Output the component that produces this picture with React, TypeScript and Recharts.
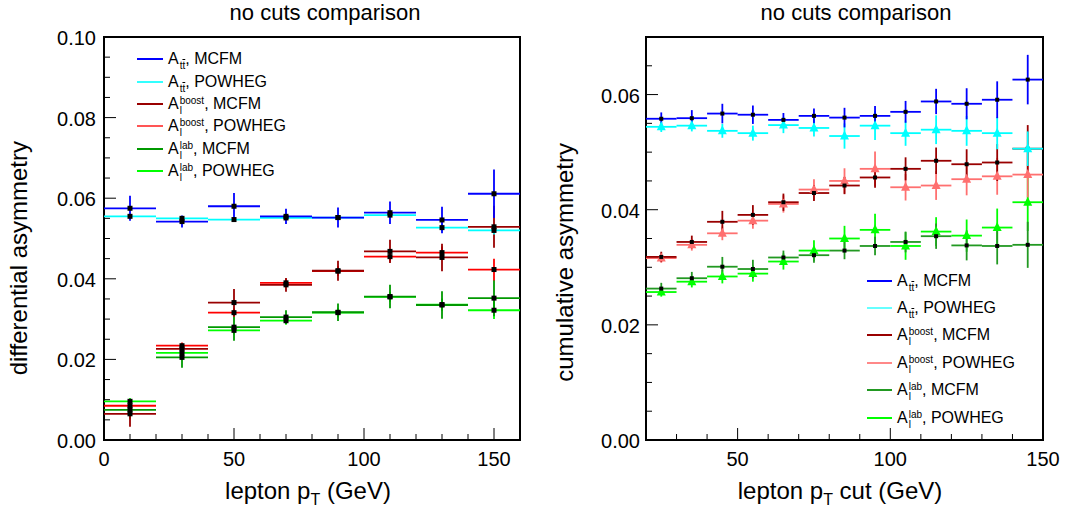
import React from 'react';
import { ScatterChart, Scatter, XAxis, YAxis, ErrorBar, ReferenceArea, Legend } from 'recharts';

const FONT = '"Liberation Sans", Arial, Helvetica, sans-serif';

// ---------- Left panel: differential asymmetry ----------
const leftBins = [10, 30, 50, 70, 90, 110, 130, 150];
const leftHalfWidth = 10;
const attMcfmL = [0.0575, 0.0542, 0.058, 0.0555, 0.0552, 0.0564, 0.0546, 0.0611];
const attMcfmLErr = [0.0031, 0.0015, 0.0033, 0.0019, 0.0025, 0.0028, 0.0033, 0.006];
const attPowL = [0.0555, 0.055, 0.0547, 0.0551, 0.0552, 0.0558, 0.0527, 0.052];
const attPowLErr = [0.0006, 0.0006, 0.0006, 0.0006, 0.0007, 0.0008, 0.0009, 0.001];
const boostMcfmL = [0.0065, 0.0226, 0.0341, 0.0385, 0.042, 0.0468, 0.0453, 0.0529];
const boostMcfmLErr = [0.0032, 0.0012, 0.0034, 0.0017, 0.0025, 0.0029, 0.0034, 0.0052];
const boostPowL = [0.0085, 0.0234, 0.0316, 0.039, 0.0419, 0.0455, 0.0465, 0.0423];
const boostPowLErr = [0.001, 0.0008, 0.001, 0.001, 0.0012, 0.0012, 0.0015, 0.0027];
const labMcfmL = [0.0075, 0.0205, 0.028, 0.0305, 0.0317, 0.0356, 0.0335, 0.0352];
const labMcfmLErr = [0.0022, 0.0026, 0.0034, 0.0017, 0.0022, 0.0029, 0.0034, 0.0045];
const labPowL = [0.0096, 0.0216, 0.0272, 0.0296, 0.0316, 0.0355, 0.0336, 0.0322];
const labPowLErr = [0.0008, 0.0008, 0.001, 0.001, 0.0012, 0.0012, 0.0015, 0.0022];

const leftXTicks = [0, 10, 20, 30, 40, 50, 60, 70, 80, 90, 100, 110, 120, 130, 140, 150, 160];
const leftXMajor = [0, 50, 100, 150];
const leftYTicks = [0, 0.005, 0.01, 0.015, 0.02, 0.025, 0.03, 0.035, 0.04, 0.045, 0.05, 0.055, 0.06, 0.065, 0.07, 0.075, 0.08, 0.085, 0.09, 0.095, 0.1];
const leftYMajor = [0, 0.02, 0.04, 0.06, 0.08, 0.1];

// ---------- Right panel: cumulative asymmetry ----------
const rightBins = [25, 35, 45, 55, 65, 75, 85, 95, 105, 115, 125, 135, 145];
const rightHalfWidth = 5;
const attMcfmR = [0.0558, 0.0559, 0.0567, 0.0565, 0.0556, 0.0563, 0.056, 0.0563, 0.057, 0.0588, 0.0584, 0.0591, 0.0626];
const attMcfmRErr = [0.0011, 0.0014, 0.0017, 0.0016, 0.0012, 0.0013, 0.0017, 0.0017, 0.0019, 0.0022, 0.0027, 0.0032, 0.0043];
const attPowR = [0.0544, 0.0546, 0.0537, 0.0533, 0.0547, 0.0542, 0.0528, 0.0546, 0.0533, 0.0539, 0.0537, 0.0533, 0.0506];
const attPowRErr = [0.0009, 0.001, 0.0012, 0.0013, 0.0014, 0.0015, 0.0022, 0.0025, 0.0022, 0.0025, 0.0026, 0.0028, 0.003];
const boostMcfmR = [0.0318, 0.0344, 0.0379, 0.0391, 0.0413, 0.0429, 0.0442, 0.0456, 0.0471, 0.0485, 0.0479, 0.0482, 0.0506];
const boostMcfmRErr = [0.0009, 0.0011, 0.0019, 0.0017, 0.0015, 0.0014, 0.0015, 0.0018, 0.002, 0.0023, 0.0026, 0.0032, 0.0041];
const boostPowR = [0.0316, 0.0339, 0.0359, 0.0381, 0.041, 0.0435, 0.045, 0.0471, 0.0439, 0.0442, 0.0453, 0.0458, 0.0461];
const boostPowRErr = [0.0008, 0.001, 0.0012, 0.0014, 0.0015, 0.0018, 0.0022, 0.003, 0.0023, 0.0025, 0.0028, 0.0032, 0.004];
const labMcfmR = [0.0263, 0.0281, 0.0301, 0.0297, 0.0317, 0.0321, 0.0329, 0.0337, 0.0344, 0.0354, 0.0338, 0.0337, 0.0339];
const labMcfmRErr = [0.001, 0.0011, 0.0017, 0.0016, 0.0012, 0.0013, 0.0015, 0.0016, 0.0018, 0.0022, 0.0026, 0.0032, 0.004];
const labPowR = [0.0257, 0.0275, 0.0284, 0.0289, 0.031, 0.0329, 0.035, 0.0365, 0.0337, 0.0362, 0.0355, 0.0369, 0.0413];
const labPowRErr = [0.0008, 0.001, 0.0012, 0.0014, 0.0014, 0.0018, 0.0022, 0.0028, 0.0024, 0.0025, 0.0028, 0.0033, 0.005];

const rightXTicks = [20, 30, 40, 50, 60, 70, 80, 90, 100, 110, 120, 130, 140, 150];
const rightXMajor = [50, 100, 150];
const rightYTicks = [0, 0.005, 0.01, 0.015, 0.02, 0.025, 0.03, 0.035, 0.04, 0.045, 0.05, 0.055, 0.06, 0.065, 0.07];
const rightYMajor = [0, 0.02, 0.04, 0.06];

// ---------- legend entries ----------
type Entry = { sup: string; sub: string; over: boolean; gen: string; color: string };
const legendLeft: Entry[] = [
  { sup: '', sub: 'tt', over: true, gen: 'MCFM', color: '#0000ff' },
  { sup: '', sub: 'tt', over: true, gen: 'POWHEG', color: '#33ffff' },
  { sup: 'boost', sub: 'l', over: false, gen: 'MCFM', color: '#990000' },
  { sup: 'boost', sub: 'l', over: false, gen: 'POWHEG', color: '#ff5555' },
  { sup: 'lab', sub: 'l', over: false, gen: 'MCFM', color: '#009900' },
  { sup: 'lab', sub: 'l', over: false, gen: 'POWHEG', color: '#00ff00' },
];
const legendRight: Entry[] = [
  { sup: '', sub: 'tt', over: true, gen: 'MCFM', color: '#0000ff' },
  { sup: '', sub: 'tt', over: true, gen: 'POWHEG', color: '#66ffff' },
  { sup: 'boost', sub: 'l', over: false, gen: 'MCFM', color: '#990000' },
  { sup: 'boost', sub: 'l', over: false, gen: 'POWHEG', color: '#ff8888' },
  { sup: 'lab', sub: 'l', over: false, gen: 'MCFM', color: '#229922' },
  { sup: 'lab', sub: 'l', over: false, gen: 'POWHEG', color: '#00ff00' },
];

const build = (xs: number[], ys: number[], errs: number[], half: number) =>
  xs.map((x, i) => ({ x, y: ys[i], ex: half, ey: errs[i] }));

const square = (size: number) => (p: any) => (
  <rect x={p.cx - size / 2} y={p.cy - size / 2} width={size} height={size} fill="#000" />
);
const triangle = (color: string) => (p: any) => (
  <polygon points={`${p.cx},${p.cy - 5.5} ${p.cx - 4.5},${p.cy + 3.5} ${p.cx + 4.5},${p.cy + 3.5}`} fill={color} />
);

const makeXTick = (majors: number[]) => (props: any) => {
  const { x, y, payload } = props;
  const major = majors.includes(payload.value);
  return (
    <g>
      <line x1={x} x2={x} y1={y} y2={y - (major ? 12 : 6)} stroke="#000" strokeWidth={1} />
      {major && (
        <text x={x} y={y + 26} textAnchor="middle" fontSize={20} fontFamily={FONT} fill="#000">
          {payload.value}
        </text>
      )}
    </g>
  );
};
const makeYTick = (majors: number[], gap: number) => (props: any) => {
  const { x, y, payload } = props;
  const major = majors.includes(payload.value);
  return (
    <g>
      <line x1={x} x2={x + (major ? 12 : 6)} y1={y} y2={y} stroke="#000" strokeWidth={1} />
      {major && (
        <text x={x - gap} y={y + 8} textAnchor="end" fontSize={20} fontFamily={FONT} fill="#000">
          {payload.value.toFixed(2)}
        </text>
      )}
    </g>
  );
};

const EntryLabel = ({ e }: { e: Entry }) => (
  <span style={{ display: 'inline-flex', alignItems: 'center', whiteSpace: 'nowrap' }}>
    <span>A</span>
    <span style={{ display: 'inline-flex', flexDirection: 'column', fontSize: 10, lineHeight: '10px', marginLeft: 1, transform: 'translateY(2px)' }}>
      <span style={{ height: 10 }}>{e.sup}</span>
      <span style={{ height: 10 }}>
        {e.over ? (
          <>
            t<span style={{ textDecoration: 'overline' }}>t</span>
          </>
        ) : (
          e.sub
        )}
      </span>
    </span>
    <span>, {e.gen}</span>
  </span>
);

const LegendBox = ({ items, rowH, lineW }: { items: Entry[]; rowH: number; lineW: number }) => (
  <div style={{ position: 'relative', fontFamily: FONT, fontSize: 16, color: '#000', width: 200, height: rowH * items.length }}>
    {items.map((e, i) => (
      <div key={i} style={{ position: 'absolute', left: 0, top: i * rowH, height: rowH, display: 'flex', alignItems: 'center' }}>
        <span style={{ display: 'inline-block', width: lineW, borderTop: `2px solid ${e.color}`, marginRight: 5 }} />
        <EntryLabel e={e} />
      </div>
    ))}
  </div>
);

type SeriesDef = { data: any[]; color: string; shape: any };

const Panel = ({
  width, plotLeft, plotRight, xDomain, yDomain, xTicks, xMajor, yTicks, yMajor, yGap, series, legend,
}: any) => (
  <ScatterChart width={width} height={513} margin={{ top: 37, right: plotRight, bottom: 0, left: 0 }}>
    <XAxis type="number" dataKey="x" domain={xDomain} allowDataOverflow ticks={xTicks} interval={0}
      tickSize={0} tickMargin={0} tickLine={false} axisLine={false} height={73} tick={makeXTick(xMajor)} />
    <YAxis type="number" dataKey="y" domain={yDomain} allowDataOverflow ticks={yTicks} interval={0}
      tickSize={0} tickMargin={0} tickLine={false} axisLine={false} width={plotLeft} tick={makeYTick(yMajor, yGap)} />
    {series.map((s: SeriesDef, i: number) => (
      <Scatter key={i} data={s.data} fill={s.color} shape={s.shape} isAnimationActive={false}>
        <ErrorBar dataKey="ex" direction="x" width={0} stroke={s.color} strokeWidth={1.8} />
        <ErrorBar dataKey="ey" direction="y" width={0} stroke={s.color} strokeWidth={1.8} />
      </Scatter>
    ))}
    <ReferenceArea x1={xDomain[0]} x2={xDomain[1]} y1={yDomain[0]} y2={yDomain[1]} fill="none" stroke="#000" strokeWidth={2} fillOpacity={0} />
    {legend}
  </ScatterChart>
);

const sq5 = square(5);
const sq4 = square(4);

const leftSeries: SeriesDef[] = [
  { data: build(leftBins, labPowL, labPowLErr, leftHalfWidth), color: '#00ff00', shape: sq5 },
  { data: build(leftBins, labMcfmL, labMcfmLErr, leftHalfWidth), color: '#009900', shape: sq5 },
  { data: build(leftBins, boostPowL, boostPowLErr, leftHalfWidth), color: '#ff0000', shape: sq5 },
  { data: build(leftBins, boostMcfmL, boostMcfmLErr, leftHalfWidth), color: '#990000', shape: sq5 },
  { data: build(leftBins, attPowL, attPowLErr, leftHalfWidth), color: '#00ffff', shape: sq5 },
  { data: build(leftBins, attMcfmL, attMcfmLErr, leftHalfWidth), color: '#0000ff', shape: sq5 },
];

const rightSeries: SeriesDef[] = [
  { data: build(rightBins, labPowR, labPowRErr, rightHalfWidth), color: '#00ff00', shape: triangle('#00ff00') },
  { data: build(rightBins, labMcfmR, labMcfmRErr, rightHalfWidth), color: '#229922', shape: sq4 },
  { data: build(rightBins, boostPowR, boostPowRErr, rightHalfWidth), color: '#ff7070', shape: triangle('#ff7070') },
  { data: build(rightBins, boostMcfmR, boostMcfmRErr, rightHalfWidth), color: '#990000', shape: sq4 },
  { data: build(rightBins, attPowR, attPowRErr, rightHalfWidth), color: '#00ffff', shape: triangle('#00ffff') },
  { data: build(rightBins, attMcfmR, attMcfmRErr, rightHalfWidth), color: '#0000ff', shape: sq4 },
];

const Titles = () => (
  <svg width={1086} height={513} style={{ position: 'absolute', left: 0, top: 0, pointerEvents: 'none' }} fontFamily={FONT}>
    <text x={325} y={20} textAnchor="middle" fontSize={22} fill="#000">no cuts comparison</text>
    <text x={856} y={20} textAnchor="middle" fontSize={22} fill="#000">no cuts comparison</text>
    <text transform="translate(27,141) rotate(-90)" textAnchor="end" fontSize={24} fill="#000">differential asymmetry</text>
    <text transform="translate(573,143) rotate(-90)" textAnchor="end" fontSize={24} fill="#000">cumulative asymmetry</text>
    <text x={308} y={499} textAnchor="middle" fontSize={24} fill="#000">
      lepton p<tspan dy={6} fontSize={16}>T</tspan><tspan dy={-6}> (GeV)</tspan>
    </text>
    <text x={840} y={499} textAnchor="middle" fontSize={24} fill="#000">
      lepton p<tspan dy={6} fontSize={16}>T</tspan><tspan dy={-6}> cut (GeV)</tspan>
    </text>
  </svg>
);

export default function App() {
  return (
    <div style={{ position: 'absolute', left: 0, top: 0, width: 1086, height: 513, background: '#fff', overflow: 'hidden' }}>
      <div style={{ position: 'absolute', left: 0, top: 0 }}>
        <Panel
          width={540} plotLeft={104} plotRight={20}
          xDomain={[0, 160]} yDomain={[0, 0.1]}
          xTicks={leftXTicks} xMajor={leftXMajor} yTicks={leftYTicks} yMajor={leftYMajor} yGap={8}
          series={leftSeries}
          legend={
            <Legend layout="vertical" align="center" verticalAlign="middle"
              wrapperStyle={{ left: 137, top: 48, width: 200 }}
              content={() => <LegendBox items={legendLeft} rowH={22.4} lineW={26} />} />
          }
        />
      </div>
      <div style={{ position: 'absolute', left: 540, top: 0 }}>
        <Panel
          width={546} plotLeft={106} plotRight={43}
          xDomain={[20, 150]} yDomain={[0, 0.07]}
          xTicks={rightXTicks} xMajor={rightXMajor} yTicks={rightYTicks} yMajor={rightYMajor} yGap={6}
          series={rightSeries}
          legend={
            <Legend layout="vertical" align="center" verticalAlign="middle"
              wrapperStyle={{ left: 327, top: 267, width: 200 }}
              content={() => <LegendBox items={legendRight} rowH={27.4} lineW={25} />} />
          }
        />
      </div>
      <Titles />
    </div>
  );
}
